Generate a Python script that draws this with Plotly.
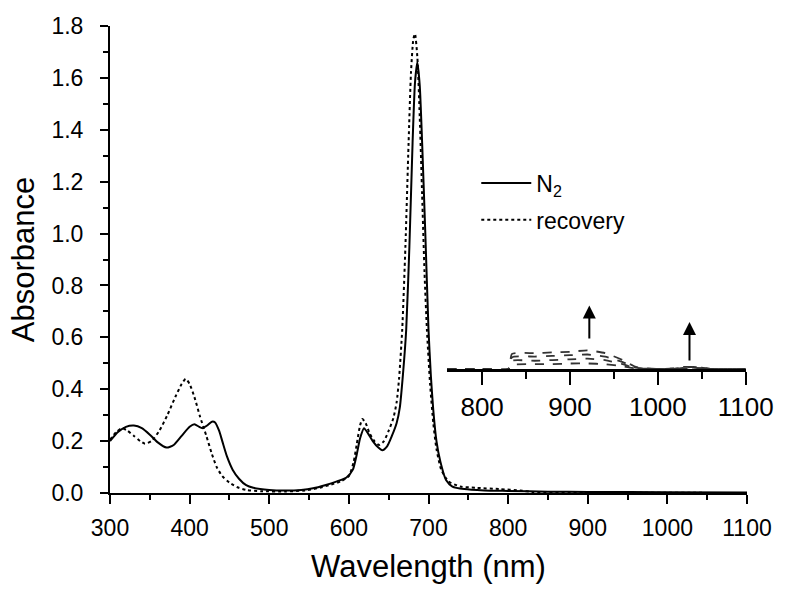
import plotly.graph_objects as go

# ---- main spectra (wavelength nm, absorbance) ----
n2_wl = [300, 310, 320, 330, 340, 350, 360, 371, 380, 390, 400, 406, 412, 416, 422, 428, 432, 437, 441,
         447, 454, 462, 471, 480, 500, 520, 540, 555, 570, 585, 597, 605, 610, 614, 619, 624, 630, 637,
         642, 648, 654, 660, 664, 668, 672, 676, 680, 683, 686, 689, 692, 696, 700, 703, 706, 710, 715,
         722, 730, 745, 770, 800, 850, 900, 1000, 1100]
n2_abs = [0.20, 0.235, 0.255, 0.26, 0.25, 0.225, 0.195, 0.175, 0.185, 0.22, 0.255, 0.265, 0.255, 0.25,
          0.26, 0.275, 0.272, 0.24, 0.20, 0.14, 0.09, 0.055, 0.03, 0.02, 0.012, 0.010, 0.012, 0.018,
          0.03, 0.045, 0.06, 0.09, 0.15, 0.21, 0.25, 0.23, 0.20, 0.175, 0.165, 0.18, 0.22, 0.27, 0.33,
          0.46, 0.63, 0.95, 1.35, 1.58, 1.66, 1.57, 1.35, 1.0, 0.63, 0.45, 0.32, 0.2, 0.12, 0.05, 0.025,
          0.015, 0.01, 0.008, 0.005, 0.004, 0.003, 0.002]

rec_wl = [300, 308, 315, 322, 330, 338, 344, 352, 362, 372, 382, 390, 395, 400, 406, 413, 421, 428, 434,
          441, 450, 460, 471, 490, 520, 545, 560, 575, 590, 600, 606, 610, 614, 617, 621, 626, 632, 638,
          644, 650, 656, 660, 663, 667, 671, 675, 678, 681, 683, 686, 689, 692, 695, 698, 702, 706, 710,
          716, 725, 740, 760, 790, 815, 830, 900, 1100]
rec_abs = [0.205, 0.235, 0.25, 0.24, 0.22, 0.20, 0.19, 0.20, 0.24, 0.30, 0.37, 0.42, 0.44, 0.42, 0.37,
           0.295, 0.22, 0.15, 0.10, 0.065, 0.04, 0.022, 0.012, 0.007, 0.006, 0.01, 0.018, 0.03, 0.045,
           0.065, 0.12, 0.19, 0.26, 0.285, 0.27, 0.23, 0.20, 0.185, 0.20, 0.24, 0.29, 0.35, 0.44, 0.63,
           0.95, 1.35, 1.62, 1.75, 1.77, 1.68, 1.45, 1.15, 0.85, 0.63, 0.42, 0.27, 0.17, 0.09, 0.045,
           0.025, 0.02, 0.015, 0.01, 0.004, 0.002, 0.0]

# ---- inset (NIR region, arbitrary units) ----
ins_wl = [760, 800, 830, 834, 860, 880, 900, 920, 940, 960, 975, 1000, 1020, 1030, 1040, 1050, 1060, 1100]
ins_c1 = [0, 0, 0, 0.22, 0.23, 0.24, 0.25, 0.27, 0.23, 0.13, 0.03, 0.0, 0.01, 0.03, 0.03, 0.02, 0.0, 0]
ins_c2 = [0, 0, 0, 0.17, 0.18, 0.19, 0.20, 0.21, 0.18, 0.10, 0.02, 0.0, 0.01, 0.02, 0.03, 0.02, 0.0, 0]
ins_c3 = [0, 0, 0, 0.12, 0.12, 0.13, 0.14, 0.15, 0.13, 0.07, 0.01, 0.0, 0.0, 0.02, 0.02, 0.01, 0.0, 0]
ins_c4 = [0, 0, 0, 0.06, 0.07, 0.07, 0.08, 0.08, 0.07, 0.04, 0.01, 0.0, 0.0, 0.01, 0.01, 0.01, 0.0, 0]
arrow_wl = [922, 1036]
arrow_tail = [0.42, 0.10]
arrow_head = [0.92, 0.68]

FONT = "Liberation Sans, Arial, sans-serif"

fig = go.Figure()
fig.add_trace(go.Scatter(x=n2_wl, y=n2_abs, mode="lines", name="N<sub>2</sub>", legendgroup="a",
                         line=dict(color="black", width=2, shape="spline", smoothing=0.6)))
fig.add_trace(go.Scatter(x=rec_wl, y=rec_abs, mode="lines", name="recovery", legendgroup="b",
                         line=dict(color="black", width=2, dash="dot", shape="spline", smoothing=0.6)))

for c in [ins_c1, ins_c2, ins_c3, ins_c4]:
    fig.add_trace(go.Scatter(x=ins_wl, y=c, mode="lines", xaxis="x2", yaxis="y2", showlegend=False,
                             line=dict(color="#333", width=1.8, dash="dash", shape="spline", smoothing=0.5)))

for wl, t, h in zip(arrow_wl, arrow_tail, arrow_head):
    fig.add_annotation(x=wl, y=h, ax=wl, ay=t, xref="x2", yref="y2", axref="x2", ayref="y2",
                       showarrow=True, arrowhead=2, arrowsize=1.3, arrowwidth=2, arrowcolor="black", text="")

fig.update_layout(
    width=787, height=597,
    margin=dict(l=110, r=38, t=26, b=104),
    paper_bgcolor="white", plot_bgcolor="white",
    font=dict(family=FONT, color="black"),
    showlegend=True,
    legend=dict(x=0.575, y=0.71, xanchor="left", yanchor="top", bgcolor="rgba(0,0,0,0)",
                font=dict(size=23, family=FONT), itemwidth=50, tracegroupgap=4),
    xaxis=dict(range=[300, 1100], dtick=100, showline=True, linecolor="black", linewidth=2,
               ticks="outside", ticklen=9, tickwidth=2, tickcolor="black", showgrid=False, zeroline=False,
               tickfont=dict(size=23, family=FONT), ticklabelstandoff=4,
               minor=dict(dtick=50, ticks="outside", ticklen=5, tickwidth=2, tickcolor="black", showgrid=False),
               title=dict(text="Wavelength (nm)", font=dict(size=31, family=FONT), standoff=16)),
    yaxis=dict(range=[0, 1.8], dtick=0.2, tickformat=".1f", showline=True, linecolor="black", linewidth=2,
               ticks="outside", ticklen=8, tickwidth=2, tickcolor="black", showgrid=False, zeroline=False,
               tickfont=dict(size=23, family=FONT), ticklabelstandoff=12,
               minor=dict(dtick=0.1, ticks="outside", ticklen=5, tickwidth=2, tickcolor="black", showgrid=False),
               title=dict(text="Absorbance", font=dict(size=31, family=FONT), standoff=8)),
    xaxis2=dict(domain=[0.529, 0.998], anchor="y2", range=[760, 1100], dtick=100, tick0=800,
                showline=True, linecolor="black", linewidth=2.5, ticks="outside", ticklen=13, tickwidth=2,
                tickcolor="black", showgrid=False, zeroline=False, tickfont=dict(size=26, family=FONT),
                minor=dict(dtick=50, ticks="outside", ticklen=7, tickwidth=2, tickcolor="black", showgrid=False)),
    yaxis2=dict(domain=[0.2655, 0.4133], anchor="x2", range=[0, 1], visible=False, showgrid=False),
)

fig.write_html("out.html")
